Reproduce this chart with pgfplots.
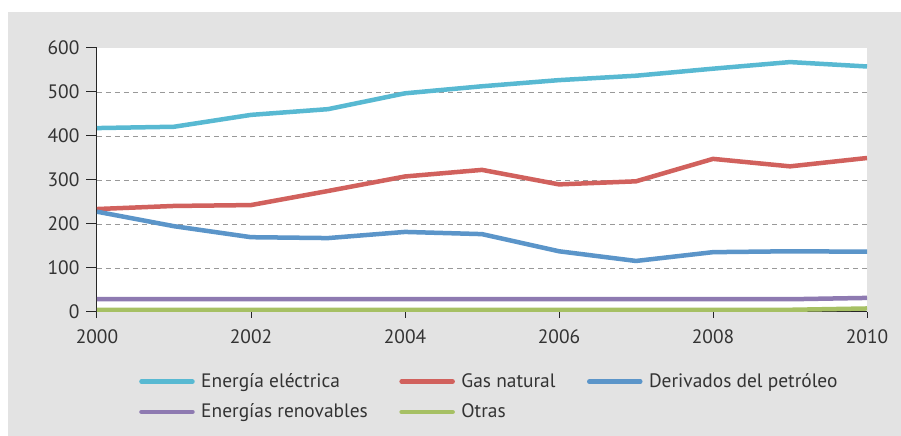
\documentclass[border=0pt]{standalone}
\usepackage{pgfplots}
\pgfplotsset{compat=1.18}
\usepackage{fontspec}
\setmainfont{PT Sans}
\definecolor{bg}{HTML}{E3E3E3}
\definecolor{celec}{HTML}{58B9D2}
\definecolor{cgas}{HTML}{D1615D}
\definecolor{cder}{HTML}{5B95C9}
\definecolor{cren}{HTML}{8E7AB1}
\definecolor{cotr}{HTML}{A6C064}
\definecolor{txt}{HTML}{333333}
\begin{document}
\fontsize{19.5}{23}\selectfont
\begin{tikzpicture}[x=1bp,y=1bp]
\path[fill=white] (-97,-124) rectangle (804,312);
\fill[bg] (-89,-124) rectangle (804,300);
\begin{axis}[
  at={(0,0)}, anchor=south west,
  scale only axis, width=770bp, height=264bp,
  xmin=2000, xmax=2010, ymin=0, ymax=600,
  axis background/.style={fill=white},
  axis x line*=bottom, axis y line*=left,
  axis line style={line width=1bp, draw=black!85},
  xtick={2000,2002,...,2010}, ytick={0,100,...,600},
  x tick label style={/pgf/number format/1000 sep={}},
  tick align=outside, major tick length=11bp,
  xtick style={/pgfplots/major tick length=6bp},
  tick style={line width=1bp, draw=black!85},
  ticklabel style={text=txt, font=\fontsize{19.5}{23}\selectfont},
  /pgf/number format/assume math mode=true,
  extra y ticks={100,200,300,400,500},
  extra y tick labels={},
  extra y tick style={grid=major, major tick length=0pt},
  grid style={draw=gray!80, line width=0.9bp, dash pattern=on 5bp off 4bp},
  legend columns=3,
  legend cell align=left,
  legend style={at={(axis description cs:0.052,-0.225)}, anchor=north west,
    draw=none, fill=none, inner sep=0pt, text=txt,
    font=\fontsize{19.5}{23}\selectfont,
    nodes={inner sep=1.5bp},
    /tikz/row sep=10.5bp,
    /tikz/every even column/.append style={column sep=28bp}},
  legend image code/.code={\draw[#1, line width=4.5bp, line cap=round] (0bp,0bp) -- (51bp,0bp); \path (-2bp,0bp) (56bp,0bp);},
  every axis plot/.append style={line width=4.5bp, line join=round, no markers},
]
\addplot[celec] coordinates {(2000,418)(2001,421)(2002,448)(2003,461)(2004,497)(2005,513)(2006,527)(2007,537)(2008,553)(2009,568)(2010,558)};
\addlegendentry{Energía eléctrica}
\addplot[cgas] coordinates {(2000,234)(2001,241)(2002,243)(2003,275)(2004,308)(2005,323)(2006,290)(2007,297)(2008,348)(2009,331)(2010,350)};
\addlegendentry{Gas natural}
\addplot[cder] coordinates {(2000,228)(2001,195)(2002,170)(2003,168)(2004,182)(2005,177)(2006,138)(2007,116)(2008,136)(2009,138)(2010,137)};
\addlegendentry{Derivados del petróleo}
\addplot[cren] coordinates {(2000,29)(2001,29)(2002,29)(2003,29)(2004,29)(2005,29)(2006,29)(2007,29)(2008,29)(2009,29)(2010,32)};
\addlegendentry{Energías renovables}
\addplot[cotr] coordinates {(2000,5)(2001,5)(2002,5)(2003,5)(2004,5)(2005,5)(2006,5)(2007,5)(2008,5)(2009,5)(2010,8)};
\addlegendentry{Otras}
\end{axis}
\end{tikzpicture}
\end{document}
